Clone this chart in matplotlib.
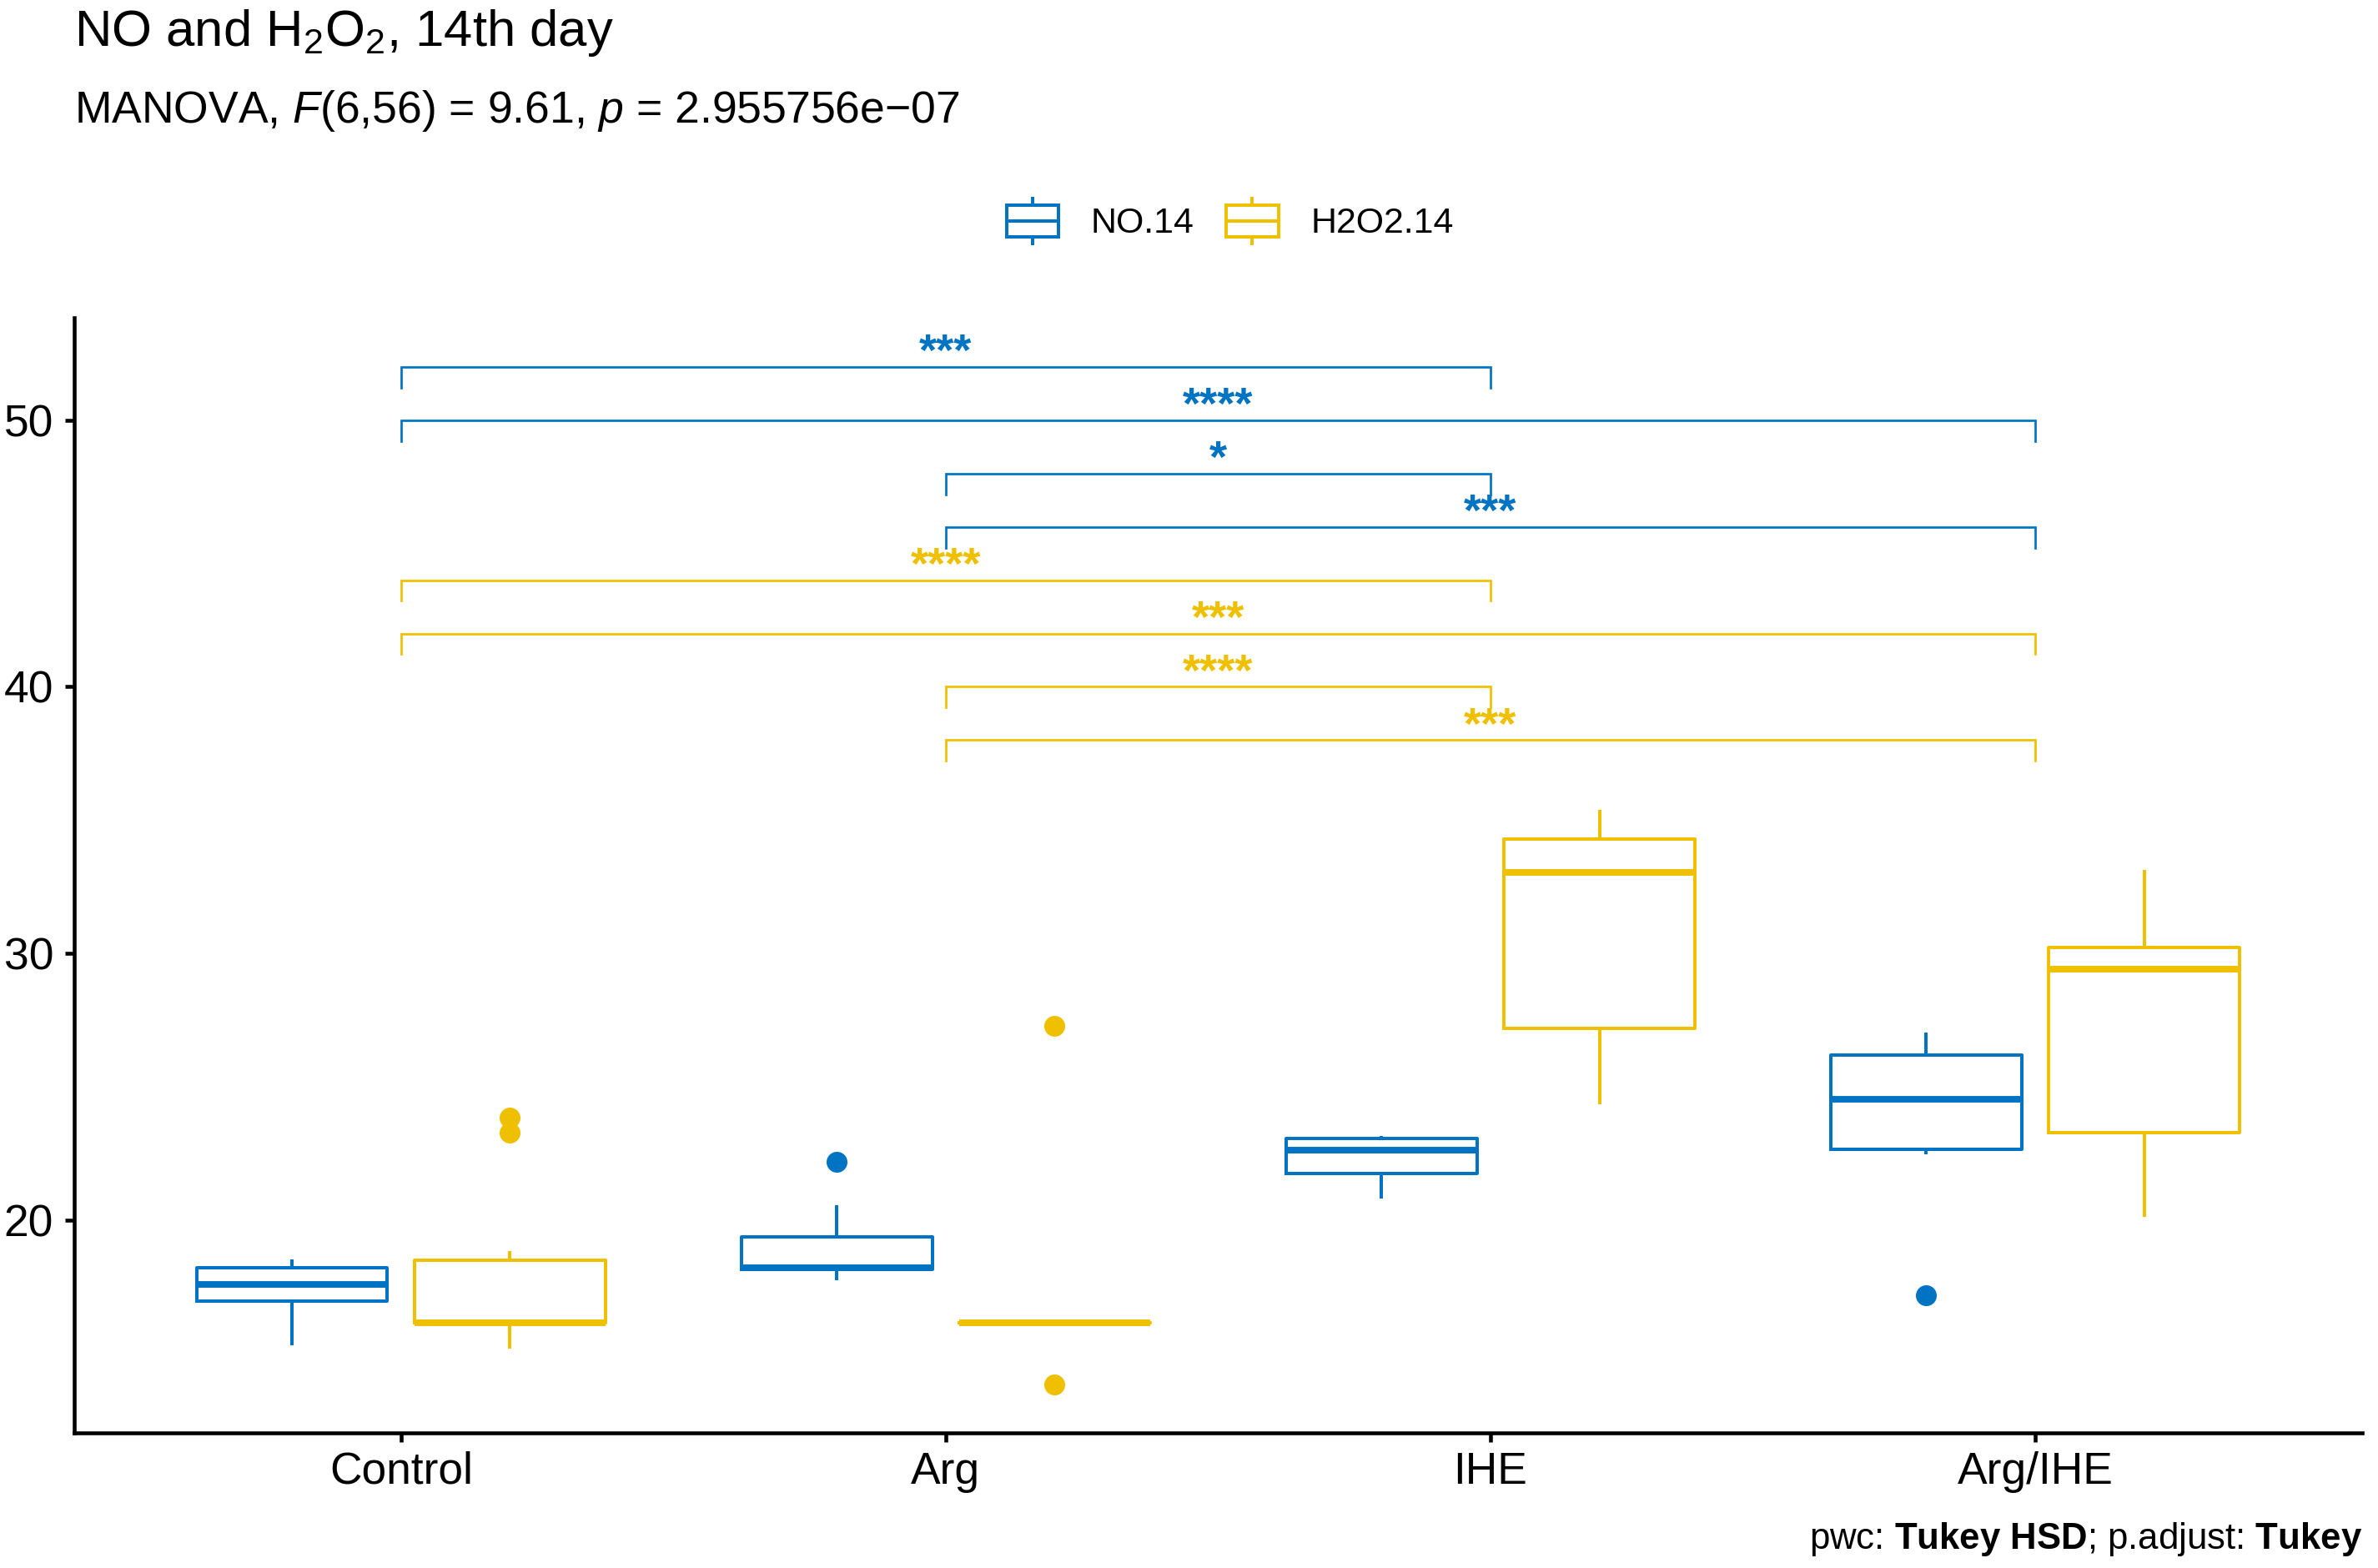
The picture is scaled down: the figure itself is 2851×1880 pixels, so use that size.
import matplotlib
matplotlib.use("Agg")
import matplotlib.pyplot as plt
from matplotlib.legend_handler import HandlerBase
from matplotlib.lines import Line2D
from matplotlib.patches import Rectangle

plt.rcParams['font.family'] = ['Liberation Sans', 'DejaVu Sans']
plt.rcParams['mathtext.fontset'] = 'custom'
plt.rcParams['mathtext.rm'] = 'Liberation Sans'
plt.rcParams['mathtext.it'] = 'Liberation Sans:italic'
plt.rcParams['mathtext.bf'] = 'Liberation Sans:bold'
plt.rcParams['mathtext.sf'] = 'Liberation Sans'

# --- data ---
groups = ["Control", "Arg", "IHE", "Arg/IHE"]
series = ["NO.14", "H2O2.14"]
colors = ["#0073C2", "#EFC000"]

no_whislo = [15.37, 17.83, 20.89, 22.55]
no_q1 = [16.98, 18.17, 21.75, 22.67]
no_med = [17.61, 18.22, 22.64, 24.55]
no_q3 = [18.23, 19.38, 23.08, 26.20]
no_whishi = [18.49, 20.52, 23.10, 26.98]
no_fliers = [[], [22.19], [], [17.20]]

h2o2_whislo = [15.26, 16.17, 24.43, 20.20]
h2o2_q1 = [16.17, 16.17, 27.21, 23.30]
h2o2_med = [16.17, 16.17, 33.05, 29.43]
h2o2_q3 = [18.51, 16.17, 34.29, 30.24]
h2o2_whishi = [18.80, 16.17, 35.33, 33.08]
h2o2_fliers = [[23.86, 23.28], [27.29, 13.86], [], []]

# pairwise comparisons (Tukey HSD)
br_group1 = ["Control", "Control", "Arg", "Arg", "Control", "Control", "Arg", "Arg"]
br_group2 = ["IHE", "Arg/IHE", "IHE", "Arg/IHE", "IHE", "Arg/IHE", "IHE", "Arg/IHE"]
br_series = [0, 0, 0, 0, 1, 1, 1, 1]
br_y = [52, 50, 48, 46, 44, 42, 40, 38]
br_label = ["***", "****", "*", "***", "****", "***", "****", "***"]

stats_by_series = [
    (no_whislo, no_q1, no_med, no_q3, no_whishi, no_fliers),
    (h2o2_whislo, h2o2_q1, h2o2_med, h2o2_q3, h2o2_whishi, h2o2_fliers),
]


class BoxKey(HandlerBase):
    """legend key that looks like a small boxplot"""
    def create_artists(self, legend, orig_handle, xdescent, ydescent,
                       width, height, fontsize, trans):
        c = orig_handle.get_color()
        x0, y0 = -xdescent, -ydescent
        bh = height * 0.7
        by = y0 + (height - bh) / 2
        xm = x0 + width / 2
        rect = Rectangle((x0, by), width, bh, fill=False, ec=c, lw=0.96, transform=trans)
        med = Line2D([x0, x0 + width], [y0 + height / 2] * 2, color=c, lw=0.96, transform=trans)
        w1 = Line2D([xm, xm], [y0, by], color=c, lw=0.96, transform=trans)
        w2 = Line2D([xm, xm], [by + bh, y0 + height], color=c, lw=0.96, transform=trans)
        return [rect, med, w1, w2]


fig = plt.figure(figsize=(2851 / 300, 1880 / 300), dpi=300)
ax = fig.add_axes([0.0312, 0.0862, 0.9621, 0.7111])

dodge = [-0.2, 0.2]
for s, (lo, q1, med, q3, hi, fl) in enumerate(stats_by_series):
    stats = []
    for i in range(len(groups)):
        stats.append(dict(whislo=lo[i], q1=q1[i], med=med[i], q3=q3[i],
                          whishi=hi[i], fliers=fl[i]))
    pos = [i + 1 + dodge[s] for i in range(len(groups))]
    c = colors[s]
    ax.bxp(stats, positions=pos, widths=0.35, showcaps=False, manage_ticks=False,
           boxprops=dict(color=c, lw=0.96),
           whiskerprops=dict(color=c, lw=0.96),
           medianprops=dict(color=c, lw=1.9, solid_capstyle='butt'),
           flierprops=dict(marker='o', markerfacecolor=c, markeredgecolor=c,
                           markersize=5.0, linestyle='none'))

# brackets with significance stars
tip = 0.78
for g1, g2, s, y, lab in zip(br_group1, br_group2, br_series, br_y, br_label):
    x1 = groups.index(g1) + 1
    x2 = groups.index(g2) + 1
    c = colors[s]
    ax.plot([x1, x1, x2, x2], [y - tip, y, y, y - tip], color=c, lw=0.65,
            solid_joinstyle='miter')
    ax.text((x1 + x2) / 2, y + 0.05, lab, color=c, fontsize=13, fontweight='bold',
            ha='center', va='baseline')

ax.set_xlim(0.4, 4.6)
ax.set_ylim(12.04, 53.83)
ax.set_xticks(range(1, len(groups) + 1))
ax.set_xticklabels(groups)
ax.set_yticks([20, 30, 40, 50])
ax.tick_params(axis='both', labelsize=12.8, length=2.75, width=1.1, color='black',
               labelcolor='black')
ax.tick_params(axis='x', pad=2.5)
ax.tick_params(axis='y', pad=3.2)
for side in ['top', 'right']:
    ax.spines[side].set_visible(False)
for side in ['left', 'bottom']:
    ax.spines[side].set_linewidth(1.1)
    ax.spines[side].set_color('black')

# legend on top
handles = [Line2D([], [], color=c) for c in colors]
fig.legend(handles, series, handler_map={Line2D: BoxKey()}, loc='center',
           bbox_to_anchor=(0.5173, 0.859), ncol=2, frameon=False, fontsize=10.3,
           handlelength=1.45, handleheight=1.55, handletextpad=0.9,
           columnspacing=0.9)

# titles and caption
fig.text(0.0312, 1 - 55 / 1880, r"NO and H$_2$O$_2$, 14th day", fontsize=14.8,
         ha='left', va='baseline')
fig.text(0.0312, 1 - 147 / 1880,
         r"MANOVA, $\mathit{F}$(6,56) = 9.61, $\mathit{p}$ = 2.955756e−07",
         fontsize=12.85, ha='left', va='baseline')
fig.text(0.9933, 1 - 1857 / 1880,
         r"pwc: $\mathbf{Tukey\ HSD}$; p.adjust: $\mathbf{Tukey}$",
         fontsize=10.5, ha='right', va='baseline')

fig.savefig("out.png", dpi=300, facecolor='white')
plt.close(fig)
